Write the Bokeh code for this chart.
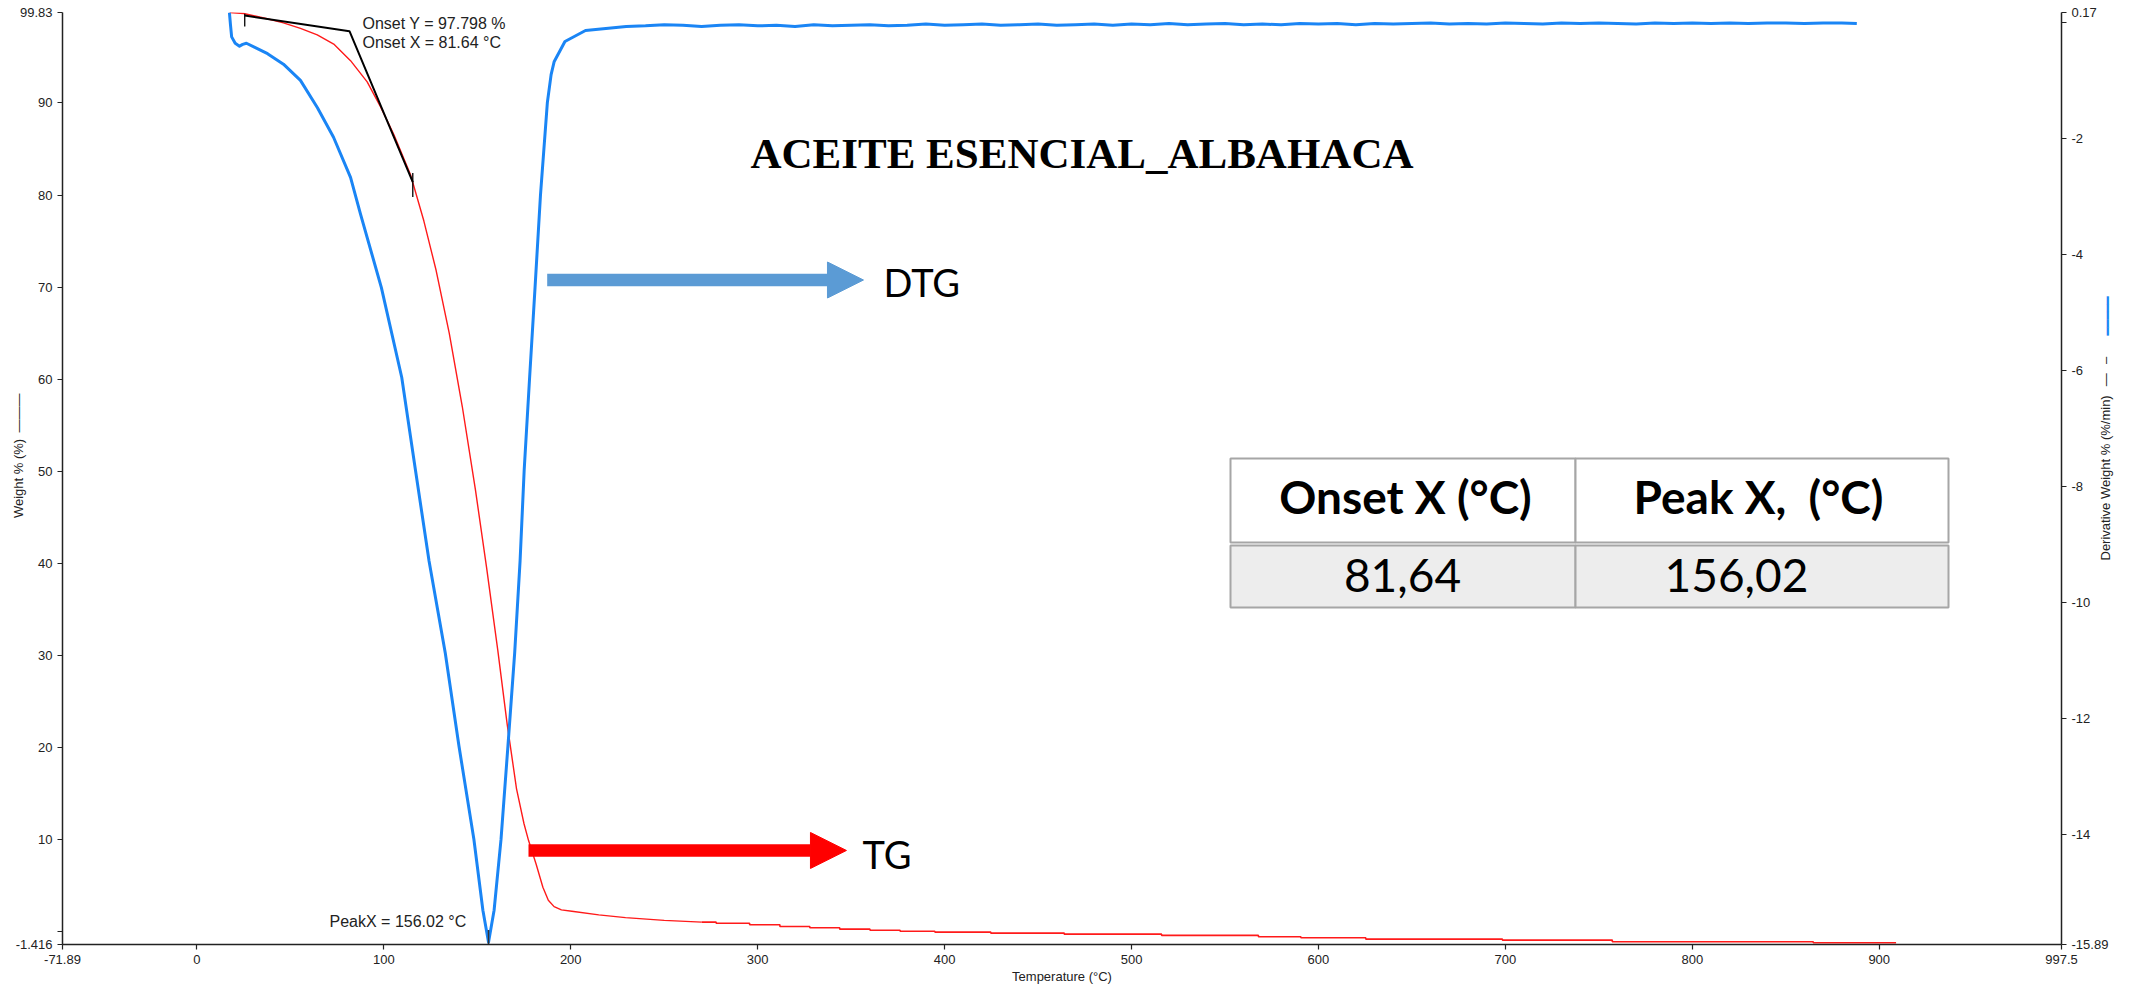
import math

from bokeh.plotting import figure
from bokeh.models import (Range1d, LinearAxis, FixedTicker, Label, Arrow,
                          NormalHead, BoxAnnotation)
from bokeh.embed import file_html
from bokeh.resources import INLINE

# ---------------------------------------------------------------- data
T_TICKS = [-71.89, 0, 100, 200, 300, 400, 500, 600, 700, 800, 900, 997.5]
T_LABELS = ["-71.89", "0", "100", "200", "300", "400", "500", "600",
            "700", "800", "900", "997.5"]
W_TICKS = [-1.416, 0, 10, 20, 30, 40, 50, 60, 70, 80, 90, 99.83]
W_LABELS = ["-1.416", "", "10", "20", "30", "40", "50", "60", "70", "80",
            "90", "99.83"]
D_TICKS = [-15.89, -14, -12, -10, -8, -6, -4, -2, 0, 0.17]
D_LABELS = ["-15.89", "-14", "-12", "-10", "-8", "-6", "-4", "-2", "", "0.17"]

# TG (weight %) vs temperature, main decomposition step
TG_T = [17.5, 25.0, 37.6, 46.3, 55.4, 64.4, 73.2, 82.2, 91.1, 98.2, 105.3,
        114.3, 121.4, 128.0, 135.0, 142.0, 149.0, 155.0, 161.0, 166.0,
        171.0, 175.0, 177.4, 181.5, 185.1, 188.0, 191.1, 195.0, 200.6,
        215.0, 229.3, 250.0, 270.0]
TG_W = [99.83, 99.72, 99.15, 98.7, 98.1, 97.4, 96.4, 94.6, 92.3, 89.6, 86.6,
        82.2, 77.2, 71.8, 65.0, 57.0, 48.0, 39.5, 30.5, 22.5,
        15.5, 11.7, 9.9, 7.3, 4.8, 3.4, 2.7, 2.35, 2.2,
        1.8, 1.5, 1.2, 1.01]
# TG residue tail (instrument resolution gives a stepped trace)
TG_TAIL_T = [270.0, 277.8, 295.7, 311.9, 327.9, 343.9, 360.1, 376.2, 394.8,
             424.7, 464.0, 516.1, 567.9, 590.6, 625.3, 698.4, 757.2, 864.7,
             909.0]
TG_TAIL_W = [1.01, 0.90, 0.73, 0.54, 0.40, 0.25, 0.14, 0.03, -0.07,
             -0.18, -0.29, -0.43, -0.57, -0.68, -0.83, -0.94, -1.12, -1.23,
             -1.23]

# DTG (derivative weight %/min) vs temperature
DTG_T = [17.4, 18.0, 18.6, 20.5, 22.8, 24.5, 26.5, 31.0, 37.8, 46.3, 55.4,
         64.5, 73.1, 82.2, 87.5, 98.7, 109.6, 116.9, 124.2, 132.9, 140.2,
         148.2, 153.0, 156.02, 159.0, 162.7, 166.4, 170.0, 172.9, 175.1,
         178.0, 180.9, 183.8, 187.5, 189.5, 191.1, 196.9, 207.9, 229.7,
         240, 250, 260, 270, 280, 290, 300, 310, 320, 330, 340, 350, 360,
         370, 380, 390, 400, 410, 420, 430, 440, 450, 460, 470, 480, 490,
         500, 510, 520, 530, 540, 550, 560, 570, 580, 590, 600, 610, 620,
         630, 640, 650, 660, 670, 680, 690, 700, 710, 720, 730, 740, 750,
         760, 770, 780, 790, 800, 810, 820, 830, 840, 850, 860, 870, 880,
         888]
DTG_V = [0.17, -0.05, -0.25, -0.36, -0.41, -0.38, -0.36, -0.43, -0.54,
         -0.72, -1.0, -1.47, -1.98, -2.67, -3.3, -4.57, -6.12, -7.71, -9.28,
         -10.87, -12.47, -14.08, -15.3, -15.85, -15.3, -14.08, -12.47,
         -10.87, -9.28, -7.71, -6.12, -4.57, -2.98, -1.38, -0.9, -0.68,
         -0.33, -0.14, -0.07,
         -0.06, -0.04, -0.05, -0.07, -0.05, -0.04, -0.06, -0.05, -0.07,
         -0.04, -0.06, -0.05, -0.04, -0.06, -0.05, -0.03, -0.05, -0.04,
         -0.03, -0.05, -0.04, -0.03, -0.05, -0.04, -0.03, -0.05, -0.03,
         -0.04, -0.02, -0.04, -0.03, -0.02, -0.04, -0.03, -0.04, -0.02,
         -0.03, -0.02, -0.04, -0.02, -0.03, -0.02, -0.01, -0.03, -0.02,
         -0.03, -0.01, -0.02, -0.03, -0.01, -0.02, -0.01, -0.02, -0.03,
         -0.01, -0.02, -0.01, -0.02, -0.01, -0.02, -0.01, -0.01, -0.02,
         -0.01, -0.01, -0.02]

ONSET_X = 81.64
ONSET_Y = 97.798
PEAK_X = 156.02
PEAK_DTG = -15.85
ONSET_LINE_T = [25.6, ONSET_X, 115.5]
ONSET_LINE_W = [99.5, ONSET_Y, 81.4]

TABLE_HEAD = ["Onset X (°C)", "Peak X,\u00a0 (°C)"]
TABLE_ROW = ["81,64", "156,02"]

TITLE = "ACEITE ESENCIAL_ALBAHACA"
X_TITLE = "Temperature (°C)"
W_TITLE = "Weight % (%)"
D_TITLE = "Derivative Weight % (%/min)"

# ---------------------------------------------------------------- layout
W, H = 2133, 987
FL, FT, FR, FB = 62, 12, 2061, 944        # plot frame edges (px)

TG_RED = "#ff1a1a"
DTG_BLUE = "#1a85f5"
AX = "#222222"

EM, EN, THIN = "\u2003", "\u2002", "\u2009"

D_LO, D_HI = D_TICKS[0], D_TICKS[-1]


def sx(px):
    """canvas x -> frame screen x"""
    return px - FL


def sy(py):
    """canvas y (top-down) -> frame screen y (bottom-up)"""
    return FB - py


def dtg_at(py):
    """DTG value at canvas row py"""
    return D_HI - (py - FT) * (D_HI - D_LO) / (FB - FT)


p = figure(width=W, height=H, output_backend="svg", toolbar_location=None,
           x_range=Range1d(T_TICKS[0], T_TICKS[-1]),
           y_range=Range1d(W_TICKS[0], W_TICKS[-1]),
           min_border_left=FL, min_border_right=W - FR,
           min_border_top=FT, min_border_bottom=H - FB)
p.extra_y_ranges = {"dtg": Range1d(D_LO, D_HI)}
p.xgrid.visible = False
p.ygrid.visible = False
p.outline_line_color = None
p.background_fill_color = "white"
p.border_fill_color = "white"

right_axis = LinearAxis(y_range_name="dtg")
p.add_layout(right_axis, "right")


def style_axis(ax, ticks, labels):
    ax.ticker = FixedTicker(ticks=ticks)
    ax.major_label_overrides = {t: l for t, l in zip(ticks, labels)}
    ax.axis_line_color = AX
    ax.axis_line_width = 1.5
    ax.major_tick_line_color = AX
    ax.major_tick_line_width = 1.2
    ax.major_tick_out = 5
    ax.major_tick_in = 0
    ax.minor_tick_out = 0
    ax.minor_tick_in = 0
    ax.major_label_standoff = 5
    ax.major_label_text_font = "Liberation Sans"
    ax.major_label_text_font_size = "13px"
    ax.major_label_text_color = AX
    ax.axis_label_text_font = "Liberation Sans"
    ax.axis_label_text_font_size = "13px"
    ax.axis_label_text_font_style = "normal"
    ax.axis_label_text_color = AX


style_axis(p.xaxis[0], T_TICKS, T_LABELS)
style_axis(p.yaxis[0], W_TICKS, W_LABELS)
style_axis(right_axis, D_TICKS, D_LABELS)

p.xaxis[0].axis_label = X_TITLE
p.xaxis[0].axis_label_standoff = 2

# left title carries its line key; padding keeps the title text centred
p.yaxis[0].axis_label = EM * 3 + EN + W_TITLE + EN + "———"
p.yaxis[0].axis_label_standoff = -13


def title_axis(text, start_row, standoff, color=AX, font="Liberation Sans"):
    """bare right-hand axis whose single tick label is a bottom-to-top
    title starting at canvas row start_row"""
    tick = dtg_at(start_row)
    ax = LinearAxis(y_range_name="dtg", ticker=FixedTicker(ticks=[tick]))
    ax.major_label_overrides = {tick: text}
    ax.axis_line_color = None
    ax.major_tick_line_color = None
    ax.major_tick_out = 0
    ax.major_tick_in = 0
    ax.minor_tick_out = 0
    ax.minor_tick_in = 0
    ax.major_label_standoff = standoff
    ax.major_label_orientation = math.pi / 2
    ax.major_label_text_font = font
    ax.major_label_text_font_size = "13px"
    ax.major_label_text_color = color
    p.add_layout(ax, "right")
    return ax


title_axis(D_TITLE + EN + THIN + "—" + EN + THIN + "–", 560, -6)
title_axis("━━━━━", 335, -16, color=DTG_BLUE, font="DejaVu Sans")

# ---------------------------------------------------------------- curves
p.line(TG_T, TG_W, line_color=TG_RED, line_width=1.4)
p.step(TG_TAIL_T, TG_TAIL_W, mode="after", line_color=TG_RED, line_width=1.6)
p.line(DTG_T, DTG_V, y_range_name="dtg", line_color=DTG_BLUE, line_width=3,
       line_join="round")

# onset construction lines
p.line(ONSET_LINE_T, ONSET_LINE_W, line_color="black", line_width=2)
p.segment(x0=[ONSET_LINE_T[0], ONSET_LINE_T[-1]], x1=[ONSET_LINE_T[0], ONSET_LINE_T[-1]],
          y0=[ONSET_LINE_W[0] + 0.2, ONSET_LINE_W[-1] + 1.0],
          y1=[ONSET_LINE_W[0] - 1.2, ONSET_LINE_W[-1] - 1.6],
          line_color="black", line_width=1.3)
# peak marker
p.segment(x0=[PEAK_X], x1=[PEAK_X], y0=[D_LO], y1=[PEAK_DTG + 0.21],
          y_range_name="dtg", line_color="#333333", line_width=1.5)

# ---------------------------------------------------------------- texts


def label(px, py, text, size, color=AX, font="Liberation Sans", style="normal",
          align="left"):
    """text whose visual centre sits at canvas (px, py)"""
    p.add_layout(Label(x=sx(px), y=sy(py), x_units="screen", y_units="screen",
                       text=text, text_font=font, text_font_size=f"{size}px",
                       text_font_style=style, text_color=color,
                       text_align=align, text_baseline="middle"))


label(362, 22.5, f"Onset Y = {ONSET_Y:.3f} %", 16)
label(362, 41.5, f"Onset X = {ONSET_X:.2f} °C", 16)
label(329, 920.5, f"PeakX = {PEAK_X:.2f} °C", 16)

label(1081.5, 152.5, TITLE, 43, color="black", font="Liberation Serif",
      style="bold", align="center")

# ---------------------------------------------------------------- arrows
p.add_layout(Arrow(x_start=187.4, y_start=70.77, x_end=356.6, y_end=70.77,
                   line_color="#5b9bd5", line_width=12.5,
                   end=NormalHead(size=36, fill_color="#5b9bd5",
                                  line_color="#5b9bd5", line_width=1)))
p.add_layout(Arrow(x_start=177.4, y_start=8.8, x_end=347.5, y_end=8.8,
                   line_color="#ff0000", line_width=12.5,
                   end=NormalHead(size=36, fill_color="#ff0000",
                                  line_color="#ff0000", line_width=1)))
label(883, 281, "DTG", 38, color="black", font="Lato")
label(862, 853, "TG", 38, color="black", font="Lato")

# ---------------------------------------------------------------- table
GRID = "#a6a6a6"
col_edges = [1230, 1575, 1948]
rows = [(458, 542, "white"), (545, 607, "#ededed")]
for top, bottom, fill in rows:
    for c in range(2):
        p.add_layout(BoxAnnotation(
            left=sx(col_edges[c]), right=sx(col_edges[c + 1]),
            top=sy(top), bottom=sy(bottom),
            left_units="screen", right_units="screen",
            top_units="screen", bottom_units="screen",
            fill_color=fill, fill_alpha=1.0,
            line_color=GRID, line_width=2, line_alpha=1.0))

head_centers = [1405, 1758]
row_centers = [1402, 1736]
for cx, txt in zip(head_centers, TABLE_HEAD):
    label(cx, 496, txt, 46, color="black", font="Lato", style="bold",
          align="center")
for cx, txt in zip(row_centers, TABLE_ROW):
    label(cx, 575, txt, 46, color="black", font="Lato", align="center")

open("out.html", "w").write(file_html(p, INLINE))
